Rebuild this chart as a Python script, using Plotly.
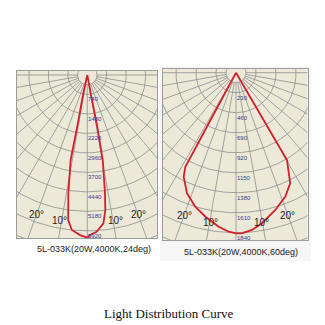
import numpy as np
import plotly.graph_objects as go

# ---------------- data ----------------
# Left chart (24 deg beam): intensity in cd vs angle (deg, negative = left)
left_ring_values = [740, 1480, 2220, 2960, 3700, 4440, 5180, 5920]
left_ring_labels = ["740", "1480", "2220", "2960", "3700", "4440", "5180", "5920"]
left_curve_angles = [-13, -12.3, -11.0, -11.1, -9.1, -7.5, -5.7, -2.6, 0,
                     1.0, 3.4, 6.2, 7.6, 8.5, 10.3, 10.9, 10.5, 13]
left_curve_cd = [0, 710, 2000, 3290, 4550, 5560, 5920, 6090, 6180,
                 6080, 5966, 5670, 5176, 4545, 3283, 2003, 707, 0]
left_caption = "5L-033K(20W,4000K,24deg)"

# Right chart (60 deg beam)
right_ring_values = [230, 460, 690, 920, 1150, 1380, 1610, 1840]
right_ring_labels = ["230", "460", "690", "920", "1150", "1380", "1610", "1840"]
right_curve_angles = [-31, -28.3, -26.7, -22.1, -16.9, -12, -6.4, -2.6, 0,
                      2.1, 5.8, 9.8, 16, 21.7, 26.1, 30.3, 31]
right_curve_cd = [0, 1228, 1339, 1497, 1610, 1693, 1783, 1831, 1847,
                  1848, 1818, 1757, 1642, 1534, 1417, 1162, 0]
right_caption = "5L-033K(20W,4000K,60deg)"

degree_label_texts = ["20°", "10°", "10°", "20°"]
grid_angles = list(range(-90, 91, 10))

title_text = "Light Distribution Curve"

# ---------------- style ----------------
BG = "#ECE9D8"
GRID = "#8f8f8f"
CURVE = "#d0202c"
NUM = "#3a3a90"
W = H = 325


def pol2xy(theta_deg, r):
    t = np.radians(np.asarray(theta_deg, dtype=float))
    r = np.asarray(r, dtype=float)
    return r * np.sin(t), -r * np.cos(t)


fig = go.Figure()


def add_panel(n, ring_values, ring_labels, angles, cd, deg_r, deg_angles):
    xa = "x" if n == 1 else "x%d" % n
    ya = "y" if n == 1 else "y%d" % n
    step = ring_values[1] - ring_values[0]
    big = step * 14
    rings = [step / 2] + list(ring_values) + [ring_values[-1] + step * k for k in range(1, 5)]
    th = np.linspace(-180, 180, 361)
    for r in rings:
        x, y = pol2xy(th, np.full_like(th, r))
        fig.add_trace(go.Scatter(x=x, y=y, mode="lines", xaxis=xa, yaxis=ya,
                                 line=dict(color=GRID, width=0.8), hoverinfo="skip",
                                 showlegend=False))
    for a in grid_angles:
        x, y = pol2xy([a, a], [step / 2, big])
        fig.add_trace(go.Scatter(x=x, y=y, mode="lines", xaxis=xa, yaxis=ya,
                                 line=dict(color=GRID, width=0.8), hoverinfo="skip",
                                 showlegend=False))
    x, y = pol2xy(angles, cd)
    fig.add_trace(go.Scatter(x=x, y=y, mode="lines", xaxis=xa, yaxis=ya,
                             line=dict(color=CURVE, width=1.8), showlegend=False))
    for v, lab in zip(ring_values, ring_labels):
        fig.add_annotation(x=0, y=-v, xref=xa, yref=ya, text=lab, showarrow=False,
                           xanchor="left", yanchor="top", xshift=-1, yshift=0,
                           font=dict(family="Liberation Sans, Arial", size=6, color=NUM))
    dx, dy = pol2xy(deg_angles, [deg_r] * len(deg_angles))
    for xx, yy, t in zip(dx, dy, degree_label_texts):
        fig.add_annotation(x=xx, y=yy, xref=xa, yref=ya, text=t, showarrow=False,
                           xanchor="center", yanchor="middle",
                           font=dict(family="Liberation Sans, Arial", size=10, color="#222"))


add_panel(1, left_ring_values, left_ring_labels, left_curve_angles, left_curve_cd,
          5640, [-20.2, -10.9, 10.9, 20.2])
add_panel(2, right_ring_values, right_ring_labels, right_curve_angles, right_curve_cd,
          1742, [-19.8, -9.7, 9.7, 19.8])

axis_common = dict(showgrid=False, zeroline=False, showticklabels=False, ticks="",
                   showline=True, mirror=True, linecolor="#9c9c9c", linewidth=1.2,
                   fixedrange=True)

L_apx, L_apy, L_s = 87.3, 75.0, 38.0
R_apx, R_apy, R_s = 236.0, 72.7, 11.5

fig.update_layout(
    width=W, height=H, margin=dict(l=0, r=0, t=0, b=0),
    paper_bgcolor="white", plot_bgcolor=BG,
    xaxis=dict(domain=[17 / W, 157 / W], range=[(17 - L_apx) * L_s, (157 - L_apx) * L_s], **axis_common),
    yaxis=dict(domain=[1 - 238.3 / H, 1 - 71 / H], range=[(L_apy - 238.3) * L_s, (L_apy - 71) * L_s], **axis_common),
    xaxis2=dict(domain=[163 / W, 307.5 / W], range=[(163 - R_apx) * R_s, (307.5 - R_apx) * R_s], anchor="y2", **axis_common),
    yaxis2=dict(domain=[1 - 240 / H, 1 - 69 / H], range=[(R_apy - 240) * R_s, (R_apy - 69) * R_s], anchor="x2", **axis_common),
)

# light grey frame behind right screenshot, then the beige panel on top of it
fig.add_shape(type="rect", xref="paper", yref="paper", x0=160 / W, x1=311 / W,
              y0=1 - 261 / H, y1=1 - 66 / H, fillcolor="#f6f6f6", line=dict(width=0),
              layer="below")
fig.add_shape(type="rect", xref="paper", yref="paper", x0=163 / W, x1=307.5 / W,
              y0=1 - 240 / H, y1=1 - 69 / H, fillcolor=BG, line=dict(width=0),
              layer="below")

fig.add_annotation(x=94 / W, y=1 - 249 / H, xref="paper", yref="paper", text=left_caption,
                   showarrow=False, xanchor="center", yanchor="middle",
                   font=dict(family="Liberation Sans, Arial", size=9, color="#222"))
fig.add_annotation(x=241 / W, y=1 - 251.7 / H, xref="paper", yref="paper", text=right_caption,
                   showarrow=False, xanchor="center", yanchor="middle",
                   font=dict(family="Liberation Sans, Arial", size=9, color="#222"))
fig.add_annotation(x=169 / W, y=1 - 313 / H, xref="paper", yref="paper", text=title_text,
                   showarrow=False, xanchor="center", yanchor="middle",
                   font=dict(family="Liberation Serif, Times New Roman", size=13, color="#111"))

fig.write_html("out.html")
